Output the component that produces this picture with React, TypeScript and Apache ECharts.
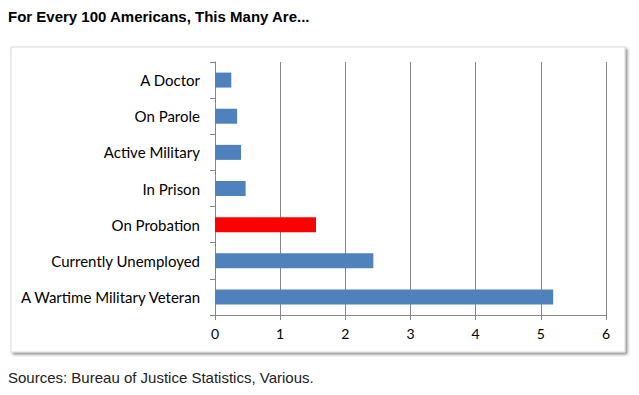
import React, { useEffect, useRef } from "react";
import * as echarts from "echarts";

const categories = [
  "A Doctor",
  "On Parole",
  "Active Military",
  "In Prison",
  "On Probation",
  "Currently Unemployed",
  "A Wartime Military Veteran",
];
const values = [0.25, 0.34, 0.4, 0.47, 1.55, 2.43, 5.19];
const highlight = "On Probation";
const xTicks = [0, 1, 2, 3, 4, 5, 6];

export default function App() {
  const ref = useRef<HTMLDivElement>(null);
  useEffect(() => {
    if (!ref.current) return;
    const chart = echarts.init(ref.current, undefined, { renderer: "svg" });
    chart.setOption({
      animation: false,
      backgroundColor: "#ffffff",
      title: [
        {
          text: "For Every 100 Americans, This Many Are...",
          left: 8,
          top: 9,
          padding: 0,
          textStyle: {
            fontFamily: "Liberation Sans, Arial, sans-serif",
            fontWeight: "bold",
            fontSize: 15,
            color: "#000000",
          },
        },
        {
          text: "Sources: Bureau of Justice Statistics, Various.",
          left: 8,
          top: 370,
          padding: 0,
          textStyle: {
            fontFamily: "Liberation Sans, Arial, sans-serif",
            fontWeight: "normal",
            fontSize: 15,
            color: "#222222",
          },
        },
      ],
      graphic: [
        {
          type: "rect",
          z: -10,
          shape: { x: 11, y: 47, width: 614, height: 305 },
          style: {
            fill: "#ffffff",
            stroke: "#d8d8d8",
            lineWidth: 1,
            shadowBlur: 3,
            shadowOffsetX: 2,
            shadowOffsetY: 2,
            shadowColor: "rgba(0,0,0,0.45)",
          },
        },
      ],
      grid: { left: 215, right: 33, top: 62, bottom: 80 },
      xAxis: {
        type: "value",
        min: xTicks[0],
        max: xTicks[xTicks.length - 1],
        interval: 1,
        axisLine: { show: true, lineStyle: { color: "#868686" } },
        axisTick: { show: true, length: 5, lineStyle: { color: "#868686" } },
        splitLine: { show: true, lineStyle: { color: "#868686" } },
        axisLabel: {
          margin: 11,
          fontFamily: "Lato, sans-serif",
          fontSize: 14,
          color: "#000000",
        },
      },
      yAxis: {
        type: "category",
        inverse: true,
        data: categories,
        axisLine: { show: true, lineStyle: { color: "#868686" } },
        axisTick: { show: true, length: 5, lineStyle: { color: "#868686" } },
        axisLabel: {
          margin: 15,
          fontFamily: "Lato, sans-serif",
          fontSize: 15,
          color: "#000000",
        },
      },
      series: [
        {
          type: "bar",
          barWidth: 15,
          data: values.map((v, i) => ({
            value: v,
            itemStyle: { color: categories[i] === highlight ? "#ff0000" : "#4f81bd" },
          })),
        },
      ],
    });
    return () => chart.dispose();
  }, []);
  return (
    <div
      ref={ref}
      style={{ position: "absolute", left: 0, top: 0, width: 639, height: 395 }}
    />
  );
}
